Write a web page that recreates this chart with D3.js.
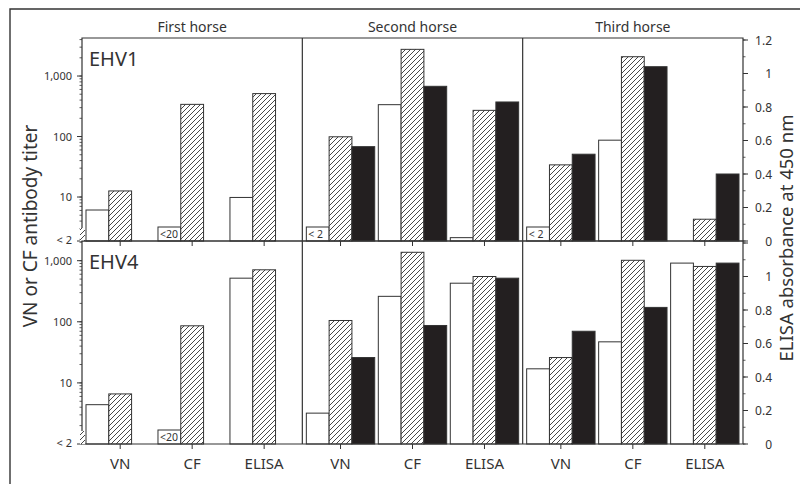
<!DOCTYPE html>
<html>
<head>
<meta charset="utf-8">
<script src="https://cdn.jsdelivr.net/npm/d3@7"></script>
<style>
  html, body { margin: 0; padding: 0; background: #fff; }
  svg { display: block; font-family: "Noto Sans", "Open Sans", sans-serif; }
</style>
</head>
<body>
<svg id="chart" width="800" height="484"></svg>
<script>
// Categories
const horses = ["First horse", "Second horse", "Third horse"];
const assays = ["VN", "CF", "ELISA"];
const viruses = ["EHV1", "EHV4"];
const sera = ["Serum 1", "Serum 2", "Serum 3"];

// Values per horse (rows) and assay (columns: VN titer, CF titer, ELISA absorbance)
const ehv1Serum1 = [[6.1, null, 0.26], [null, 336, 0.02], [null, 87, null]];
const ehv1Serum2 = [[12.6, 340, 0.88], [99, 2760, 0.78], [34, 2085, 0.13]];
const ehv1Serum3 = [[null, null, null], [68, 676, 0.83], [51, 1426, 0.40]];
const ehv4Serum1 = [[4.4, null, 0.99], [3.2, 261, 0.96], [17, 47, 1.08]];
const ehv4Serum2 = [[6.6, 86, 1.04], [105, 1373, 1.00], [26, 1015, 1.06]];
const ehv4Serum3 = [[null, null, null], [26, 87, 0.99], [70, 172, 1.08]];

// Results below the detection limit of the assay
const ehv1Serum1Limits = [[null, "<20", null], ["< 2", null, null], ["< 2", null, null]];
const ehv4Serum1Limits = [[null, "<20", null], [null, null, null], [null, null, null]];

// Axis ticks
const titerTicks = [10, 100, 1000];
const titerTickLabels = ["10", "100", "1,000"];
const titerFloorLabel = "< 2";
const absorbanceTicks = [0, 0.2, 0.4, 0.6, 0.8, 1, 1.2];
const absorbanceTickLabels = ["0", "0.2", "0.4", "0.6", "0.8", "1", "1.2"];

const seriesByVirus = [
  [ehv1Serum1, ehv1Serum2, ehv1Serum3],
  [ehv4Serum1, ehv4Serum2, ehv4Serum3]
];
const limitsByVirus = [
  [ehv1Serum1Limits, null, null],
  [ehv4Serum1Limits, null, null]
];

const ink = "#333";
const svg = d3.select("#chart");

// Hatch for the second serum
const defs = svg.append("defs");
const hatch = defs.append("pattern")
  .attr("id", "hatch").attr("patternUnits", "userSpaceOnUse")
  .attr("width", 5).attr("height", 5);
hatch.append("rect").attr("width", 5).attr("height", 5).attr("fill", "#fff");
hatch.append("path").attr("d", "M-1,1 l2,-2 M0,5 l5,-5 M4,6 l2,-2")
  .attr("stroke", ink).attr("stroke-width", 0.9);

const fills = ["#fff", "url(#hatch)", "#231f20"];

// Layout
const left = 82, right = 743, headTop = 9, plotTop = 38, rowH = 203;
const rows = viruses.map((v, i) => ({ top: plotTop + i * rowH, bottom: plotTop + (i + 1) * rowH }));

const xHorse = d3.scaleBand().domain(horses).range([left, right]);
const xAssay = d3.scaleBand().domain(assays).range([4, xHorse.bandwidth() - 4]).paddingInner(0.05);
const xSerum = d3.scaleBand().domain(d3.range(sera.length)).range([0, xAssay.bandwidth()]);

const titerDomains = [[1.875, 4250], [1, 2100]];
const yTiter = rows.map((r, i) => d3.scaleLog().domain(titerDomains[i]).range([r.bottom, r.top]));
const yAbs = rows.map(r => d3.scaleLinear().domain([0, 1.2]).range([r.bottom, r.bottom - 201]));

// Frame
svg.append("path").attr("d", `M10,484 V${headTop} H800`)
  .attr("fill", "none").attr("stroke", ink).attr("stroke-width", 1.4);

// Column headers
svg.selectAll("text.head").data(horses).join("text")
  .attr("class", "head")
  .attr("x", d => xHorse(d) + xHorse.bandwidth() / 2)
  .attr("y", 31.5)
  .attr("text-anchor", "middle")
  .attr("font-size", 14).attr("fill", ink)
  .text(d => d);

const placeholderH = 14;

rows.forEach((r, ri) => {
  const g = svg.append("g");

  // Bars
  horses.forEach((h, hi) => {
    assays.forEach((a, ai) => {
      sera.forEach((s, si) => {
        const value = seriesByVirus[ri][si][hi][ai];
        const lim = limitsByVirus[ri][si] ? limitsByVirus[ri][si][hi][ai] : null;
        const x = xHorse(h) + xAssay(a) + xSerum(si);
        const w = xSerum.bandwidth();
        if (lim) {
          g.append("rect")
            .attr("x", x).attr("y", r.bottom - placeholderH)
            .attr("width", w).attr("height", placeholderH)
            .attr("fill", fills[si]).attr("stroke", ink).attr("stroke-width", 1);
          g.append("text")
            .attr("x", x + 2).attr("y", r.bottom - 3)
            .attr("font-size", 10.5).attr("fill", ink)
            .text(lim);
          return;
        }
        if (value == null) return;
        const y = a === "ELISA" ? yAbs[ri](value) : yTiter[ri](value);
        g.append("rect")
          .attr("x", x).attr("y", y)
          .attr("width", w).attr("height", r.bottom - y)
          .attr("fill", fills[si]).attr("stroke", ink).attr("stroke-width", 1);
      });
    });
  });

  // Panel borders
  const border = `M${left},${r.top} H${right} V${r.bottom} H${left} Z`;
  g.append("path").attr("d", border).attr("fill", "none").attr("stroke", ink).attr("stroke-width", 1.2);
  horses.slice(1).forEach(h => {
    g.append("line").attr("x1", xHorse(h)).attr("x2", xHorse(h))
      .attr("y1", r.top).attr("y2", r.bottom).attr("stroke", ink).attr("stroke-width", 1.2);
  });

  // Category ticks at each assay group
  horses.forEach(h => {
    assays.forEach(a => {
      const cx = xHorse(h) + xAssay(a) + xAssay.bandwidth() / 2;
      g.append("line").attr("x1", cx).attr("x2", cx)
        .attr("y1", r.bottom).attr("y2", r.bottom + 5)
        .attr("stroke", ink).attr("stroke-width", 1);
    });
  });

  // Left titer axis: minor log ticks, major ticks, labels
  const ys = yTiter[ri];
  const [d0, d1] = ys.domain();
  const minor = [];
  for (let p = 1; p <= 1000; p *= 10) {
    for (let m = 1; m <= 9; m++) {
      const v = m * p;
      if (v > d0 && v <= d1) minor.push(v);
    }
  }
  g.selectAll("line.minor").data(minor).join("line")
    .attr("class", "minor")
    .attr("x1", left - 2.5).attr("x2", left)
    .attr("y1", d => ys(d)).attr("y2", d => ys(d))
    .attr("stroke", ink).attr("stroke-width", 0.8);
  g.selectAll("line.major").data(titerTicks).join("line")
    .attr("class", "major")
    .attr("x1", left - 5).attr("x2", left)
    .attr("y1", d => ys(d)).attr("y2", d => ys(d))
    .attr("stroke", ink).attr("stroke-width", 1);
  g.selectAll("text.tl").data(titerTicks).join("text")
    .attr("class", "tl")
    .attr("x", left - 10).attr("y", d => ys(d) + 4)
    .attr("text-anchor", "end").attr("font-size", 11).attr("fill", ink)
    .text((d, i) => titerTickLabels[i]);
  g.append("line").attr("x1", left - 5).attr("x2", left)
    .attr("y1", ys(d0)).attr("y2", ys(d0)).attr("stroke", ink);
  g.append("text")
    .attr("x", left - 10).attr("y", ys(d0) + 3)
    .attr("text-anchor", "end").attr("font-size", 11).attr("fill", ink)
    .text(titerFloorLabel);
  // Axis break mark at the foot of the titer axis
  g.append("rect")
    .attr("x", left - 2).attr("y", ys(d0) - 13)
    .attr("width", 5).attr("height", 13)
    .attr("fill", "url(#hatch)");

  // Right absorbance axis
  const ya = yAbs[ri];
  const minorAbs = d3.range(0, 13).map(i => i / 10);
  g.selectAll("line.aminor").data(minorAbs).join("line")
    .attr("class", "aminor")
    .attr("x1", right).attr("x2", right + 2.5)
    .attr("y1", d => ya(d)).attr("y2", d => ya(d))
    .attr("stroke", ink).attr("stroke-width", 0.8);
  g.selectAll("line.amajor").data(absorbanceTicks).join("line")
    .attr("class", "amajor")
    .attr("x1", right).attr("x2", right + 5)
    .attr("y1", d => ya(d)).attr("y2", d => ya(d))
    .attr("stroke", ink).attr("stroke-width", 1);
  const shown = absorbanceTicks.filter(d => ri === 0 || d < 1.2);
  g.selectAll("text.al").data(shown).join("text")
    .attr("class", "al")
    .attr("x", 772).attr("y", d => ya(d) + 4.5)
    .attr("text-anchor", "end").attr("font-size", 12).attr("fill", ink)
    .text(d => absorbanceTickLabels[absorbanceTicks.indexOf(d)]);

  // Virus label
  g.append("text")
    .attr("x", 89).attr("y", r.top + 28)
    .attr("font-size", 20).attr("fill", ink)
    .text(viruses[ri]);
});

// Assay labels under the bottom row
const lastRow = rows[rows.length - 1];
horses.forEach(h => {
  svg.append("g").selectAll("text").data(assays).join("text")
    .attr("x", a => xHorse(h) + xAssay(a) + xAssay.bandwidth() / 2)
    .attr("y", lastRow.bottom + 25)
    .attr("text-anchor", "middle").attr("font-size", 15).attr("fill", ink)
    .text(a => a);
});

// Axis titles
svg.append("text")
  .attr("transform", "translate(37,226) rotate(-90)")
  .attr("text-anchor", "middle").attr("font-size", 19).attr("fill", ink)
  .text("VN or CF antibody titer");
svg.append("text")
  .attr("transform", "translate(793,238) rotate(-90)")
  .attr("text-anchor", "middle").attr("font-size", 18.5).attr("fill", ink)
  .text("ELISA absorbance at 450 nm");
</script>
</body>
</html>
